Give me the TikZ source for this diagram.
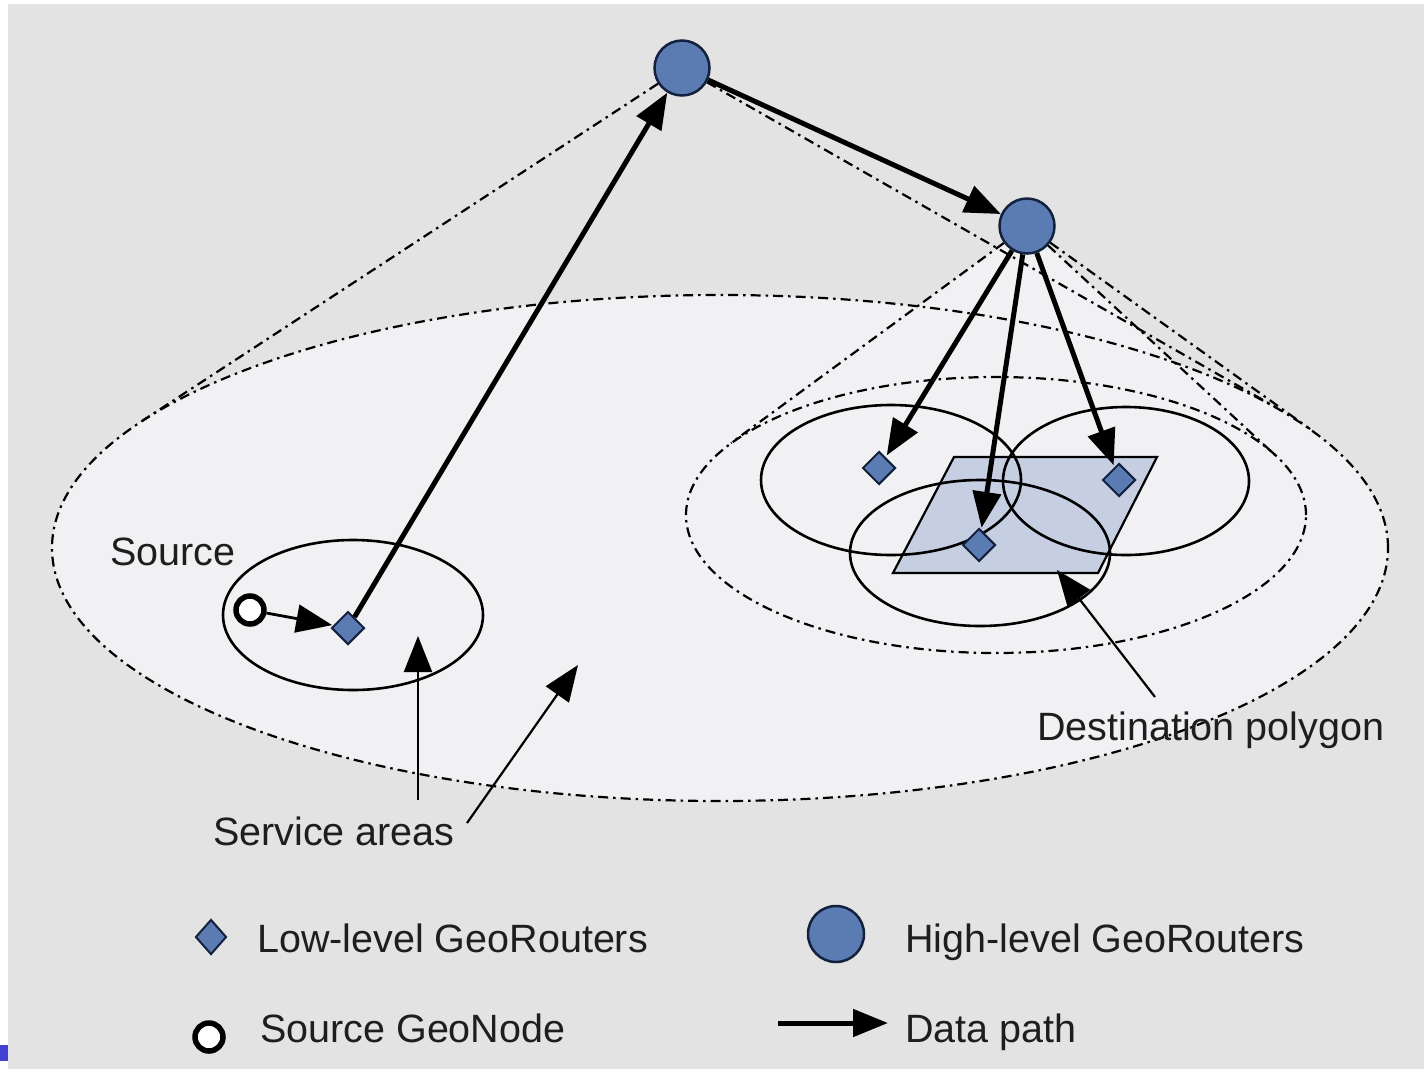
\documentclass[tikz,border=0pt]{standalone}
\usepackage{fontspec}
\setmainfont{Liberation Sans}
\usetikzlibrary{arrows.meta,shapes.geometric}

\definecolor{bggray}{HTML}{E3E3E3}
\definecolor{areafill}{HTML}{F1F1F4}
\definecolor{routerblue}{HTML}{5B7BB3}
\definecolor{routeredge}{HTML}{14213D}
\definecolor{polyfill}{HTML}{C6CEE2}
\definecolor{txt}{HTML}{1E1E1E}
\definecolor{markblue}{HTML}{4343D3}

\begin{document}
\begin{tikzpicture}[x=1pt,y=-1pt,
  hub/.style={circle, draw=routeredge, line width=2.5pt, fill=routerblue,
    minimum size=55pt, inner sep=0pt},
  router/.style={diamond, draw=routeredge, line width=2pt, fill=routerblue,
    minimum width=33pt, minimum height=33pt, inner sep=0pt},
  geonode/.style={circle, draw=black, line width=5.5pt, fill=white,
    minimum size=28pt, inner sep=0pt},
  datapath/.style={line width=5pt, -{Triangle[length=36pt,width=28pt]}},
  feedline/.style={line width=2.8pt, -{Triangle[length=36pt,width=28pt]}},
  pointer/.style={line width=2.2pt, -{Triangle[length=36pt,width=28pt]}},
  dashdot/.style={line width=2.2pt, dash pattern=on 10pt off 5pt on 2.5pt off 5pt},
  rim/.style={line width=2.6pt},
  lbl/.style={font=\fontsize{39.5}{45}\selectfont, text=txt, inner sep=0pt,
    anchor=base west}]

\useasboundingbox (0,0) rectangle (1424,1069);
\fill[white] (0,0) rectangle (1424,1069);
\fill[bggray] (8,4) rectangle (1424,1069);
\fill[markblue] (0,1045) rectangle (8,1061);

% centres of the two high-level routers and the cone end points
\coordinate (Ac) at (682,68);
\coordinate (Bc) at (1027,226);
\coordinate (tAL) at (142,421);
\coordinate (tAR) at (1277,408);
\coordinate (tBL) at (731,443);
\coordinate (tBR) at (1275,455);
\coordinate (tBF) at (1310,429);

% service areas (fills)
\fill[areafill] (720,548) ellipse [x radius=668pt, y radius=253pt];
\fill[areafill] (Bc) -- (tBL) -- (tBR) -- cycle;
\fill[areafill] (996,515) ellipse [x radius=310pt, y radius=138pt];

% destination polygon
\draw[line width=2.2pt, fill=polyfill]
  (954,457) -- (1157,457) -- (1098,573) -- (893,573) -- cycle;

% service area outlines
\draw[dashdot] (720,548) ellipse [x radius=668pt, y radius=253pt];
\draw[dashdot] (996,515) ellipse [x radius=310pt, y radius=138pt];
\draw[rim] (891,480) ellipse [x radius=130pt, y radius=75pt];
\draw[rim] (1126,481) ellipse [x radius=123pt, y radius=74pt];
\draw[rim] (980,553) ellipse [x radius=130pt, y radius=73pt];
\draw[rim] (353,615) ellipse [x radius=130pt, y radius=75pt];

% routers and source node
\node[hub] (A) at (Ac) {};
\node[hub] (B) at (Bc) {};
\node[router] (rs) at (348,628) {};
\node[router] (r1) at (879,468) {};
\node[router] (r2) at (979,545) {};
\node[router] (r3) at (1119,480) {};
\node[geonode] (src) at (250,610) {};

% coverage cones
\draw[dashdot] (A) -- (tAL);
\draw[dashdot] (A) -- (tAR);
\draw[dashdot] (B) -- (tBL);
\draw[dashdot] (B) -- (tBR);
\draw[dashdot] (B) -- (tBF);

% data path
\draw[feedline, shorten >=1pt] (src) -- (rs);
\draw[datapath] (rs) -- (A);
\draw[datapath] (A) -- (B);
\draw[datapath, shorten >=2pt] (B) -- (r1);
\draw[datapath, shorten >=2pt] (B) -- (r2);
\draw[datapath, shorten >=2pt] (B) -- (r3);

% labels and pointers
\node[lbl] (lsrc) at (110,565) {Source};
\node[lbl] (lsvc) at (213,845) {Service areas};
\node[lbl] (ldst) at (1037,740) {Destination polygon};
\coordinate (p1s) at (418,800);
\coordinate (p1e) at (418,636);
\coordinate (p2s) at (467,823);
\coordinate (p2e) at (578,665);
\coordinate (p3s) at (1155,697);
\coordinate (p3e) at (1057,570);
\draw[pointer] (p1s) -- (p1e);
\draw[pointer] (p2s) -- (p2e);
\draw[pointer] (p3s) -- (p3e);

% legend
\node[router, minimum width=31pt, minimum height=35pt] (kl) at (211,937) {};
\node[lbl] (klt) at (257,952) {Low-level GeoRouters};
\node[geonode] (ks) at (209,1037) {};
\node[lbl] (kst) at (260,1042) {Source GeoNode};
\node[hub, minimum size=56pt] (kh) at (836,934) {};
\node[lbl] (kht) at (905,952) {High-level GeoRouters};
\coordinate (kds) at (778,1023);
\coordinate (kde) at (888,1023);
\draw[datapath, -{Triangle[length=35pt,width=27pt]}] (kds) -- (kde);
\node[lbl] (kdt) at (905,1042) {Data path};
\end{tikzpicture}
\end{document}
